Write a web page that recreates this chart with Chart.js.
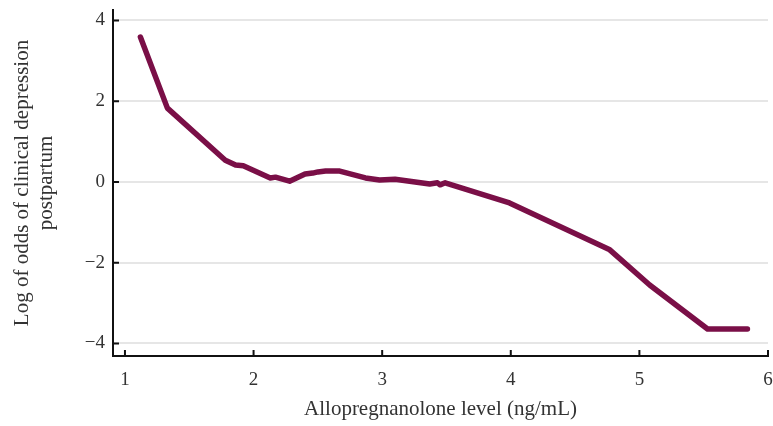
<!DOCTYPE html>
<html>
<head>
<meta charset="utf-8">
<script src="https://cdn.jsdelivr.net/npm/chart.js@4"></script>
<style>
  html, body { margin: 0; padding: 0; background: #fff; }
  #wrap { width: 773px; height: 426px; }
</style>
</head>
<body>
<div id="wrap"><canvas id="chart" width="773" height="426"></canvas></div>
<script>
// allopregnanolone level (ng/mL) vs log odds
const allo = [1.12, 1.33, 1.78, 1.86, 1.92, 2.13, 2.17, 2.28, 2.40, 2.46, 2.50, 2.56, 2.67, 2.87, 2.98, 3.10, 3.37, 3.43, 3.45, 3.49, 3.99, 4.77, 5.08, 5.53, 5.84];
const logOdds = [3.59, 1.83, 0.54, 0.42, 0.40, 0.10, 0.12, 0.02, 0.20, 0.22, 0.25, 0.27, 0.27, 0.10, 0.05, 0.07, -0.05, -0.02, -0.07, -0.02, -0.52, -1.68, -2.55, -3.64, -3.64];

const xTicks = [1, 2, 3, 4, 5, 6];
const yTicks = [-4, -2, 0, 2, 4];

const serif = "'Liberation Serif', 'DejaVu Serif', serif";

// short tick marks pointing into the plot
const innerTicks = {
  id: 'innerTicks',
  afterDraw(chart) {
    const ctx = chart.ctx;
    const xs = chart.scales.x, ys = chart.scales.y;
    ctx.save();
    ctx.strokeStyle = '#111';
    ctx.lineWidth = 2;
    ctx.beginPath();
    yTicks.forEach(v => {
      const py = ys.getPixelForValue(v);
      ctx.moveTo(xs.left, py);
      ctx.lineTo(xs.left + 6, py);
    });
    xTicks.forEach(v => {
      const px = xs.getPixelForValue(v);
      ctx.moveTo(px, ys.bottom);
      ctx.lineTo(px, ys.bottom - 6);
    });
    ctx.stroke();
    ctx.restore();
  }
};

const ctx = document.getElementById('chart').getContext('2d');
new Chart(ctx, {
  type: 'line',
  data: {
    datasets: [{
      data: allo.map((x, i) => ({ x: x, y: logOdds[i] })),
      borderColor: '#7a0f47',
      borderWidth: 5.5,
      pointRadius: 0,
      fill: false,
      tension: 0,
      borderJoinStyle: 'round',
      borderCapStyle: 'round'
    }]
  },
  options: {
    responsive: false,
    animation: false,
    layout: { padding: { top: 10, right: 5, left: 0, bottom: 0 } },
    plugins: { legend: { display: false }, tooltip: { enabled: false } },
    scales: {
      x: {
        type: 'linear',
        min: 0.907,
        max: 6,
        afterBuildTicks: s => { s.ticks = xTicks.map(v => ({ value: v })); },
        afterFit: s => { s.height = 70; s.paddingLeft = 0; s.paddingRight = 0; },
        grid: { display: false, drawTicks: false },
        border: { color: '#111', width: 2 },
        ticks: { color: '#333', font: { family: serif, size: 19 }, padding: 13 },
        title: {
          display: true,
          text: 'Allopregnanolone level (ng/mL)',
          color: '#333',
          font: { family: serif, size: 21 },
          padding: { top: 2 }
        }
      },
      y: {
        type: 'linear',
        min: -4.31,
        max: 4.26,
        afterBuildTicks: s => { s.ticks = yTicks.map(v => ({ value: v })); },
        afterFit: s => { s.width = 113; s.paddingTop = 0; s.paddingBottom = 0; },
        grid: { color: '#e6e6e6', lineWidth: 2, drawTicks: false },
        border: { color: '#111', width: 2 },
        ticks: {
          color: '#333',
          font: { family: serif, size: 19 },
          padding: 8,
          callback: v => (v < 0 ? '\u2212' + Math.abs(v) : String(v))
        },
        title: {
          display: true,
          text: ['Log of odds of clinical depression', 'postpartum'],
          color: '#333',
          font: { family: serif, size: 21, lineHeight: 1.15 },
          padding: { top: 10, bottom: 0 }
        }
      }
    }
  },
  plugins: [innerTicks]
});
</script>
</body>
</html>
